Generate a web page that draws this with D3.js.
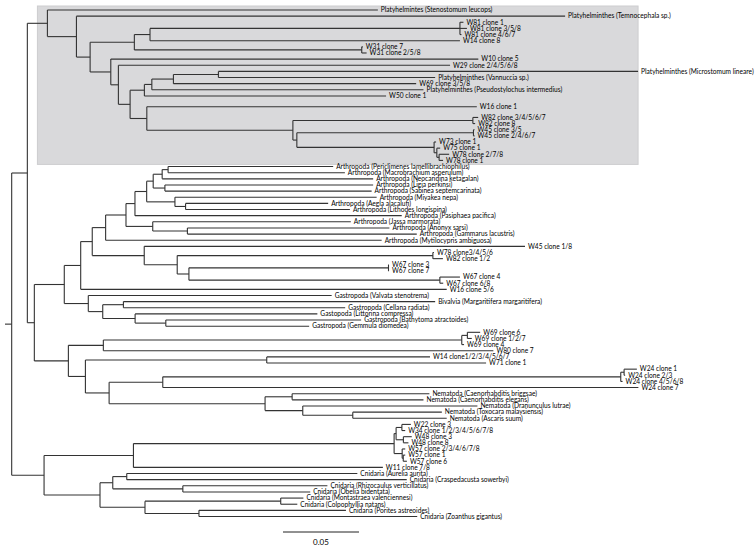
<!DOCTYPE html>
<html><head><meta charset="utf-8">
<script src="https://cdn.jsdelivr.net/npm/d3@7"></script>
<style>body{margin:0;background:#fff}svg{display:block}</style>
</head><body>
<svg id="chart" width="756" height="546"></svg>
<script>
// ---- Data: tree clades as Newick strings (branch lengths in substitutions/site) ----
const platyhelminthClade = "('Platyhelmintes (Stenostomum leucops)':0.2174,('Platyhelminthes (Temnocephala sp.)':0.3215,(((('W81 clone 1':0.0023,'W81 clone 3/5/8':0.0046,'W81 clone 4/6/7':0.0010):0.2039,'W14 clone 8':0.2039):0.0103,('W31 clone 7':0.0007,'W31 clone 2/5/8':0.0032):0.1496):0.0291,('W10 clone 5':0.2418,('W29 clone 2/4/5/6/8':0.2182,((((('Platyhelminthes (Microstomum lineare)':0.2761,'Platyhelminthes (Vannuccia sp.)':0.1426):0.0296,'W69 clone 3/5/8':0.1597):0.0142,'Platyhelminthes (Pseudostylochus intermedius)':0.1787):0.0049,'W50 clone 1':0.1590):0.0094,('W16 clone 1':0.2171,(('W82 clone 3/4/5/6/7':0.0035,'W82 clone 8':0.0015):0.1184,(('W45 clone 3/5':0.0007,'W45 clone 2/4/6/7':0.0007):0.1162,('W73 clone 1':0.0013,('W75 clone 1':0.0022,('W78 clone 2/7/8':0.0066,'W78 clone 1':0.0026):0.0015):0.0018):0.0903):0.0026):0.0961):0.0110):0.0077):0.0050):0.0136):0.0090):0.0191):0.0132";
const arthropodClade = "((((((('Arthropoda (Periclimenes lamellibrachiophilus)':0.1086,'Arthropoda (Macrobrachium asperulum)':0.1163):0.0039,'Arthropoda (Neocaridina ketagalan)':0.1388):0.0059,('Arthropoda (Ligia perkinsi)':0.1370,'Arthropoda (Sabinea septemcarinata)':0.1360):0.0077):0.0043,('Arthropoda (Miyakea nepa)':0.1327,('Arthropoda (Aegla alacalufi)':0.0938,'Arthropoda (Lithodes longispina)':0.1081):0.0070):0.0186):0.0077,'Arthropoda (Pasiphaea pacifica)':0.1755):0.0059,('Arthropoda (Jassa marmorata)':0.1303,('Arthropoda (Anonyx sarsi)':0.1329,'Arthropoda (Gammarus lacustris)':0.1509):0.0228):0.0176):0.0134,'Arthropoda (Mytilocypris ambiguosa)':0.1816):0.0088";
const cloneCladeW45W67 = "('W45 clone 1/8':0.2505,(('W78 clone3/4/5/6':0.0007,'W82 clone 1/2':0.0066):0.1682,(('W67 clone 3':0.0003,'W67 clone 7':0.0003):0.1313,('W67 clone 4':0.0132,'W67 clone 6/8':0.0022):0.1651):0.0077):0.0217):0.0342";
const molluscClade = "('Gastropoda (Valvata stenotrema)':0.1601,(('Bivalvia (Margaritifera margaritifera)':0.2051,'Gastropoda (Cellana radiata)':0.1459):0.0136,('Gastopoda (Littorina compressa)':0.1199,('Gastropoda (Bathytoma atractoides)':0.1285,'Gastropoda (Gemmula diomedea)':0.0943):0.0202):0.0213):0.0095):0.0158";
const cloneCladeW69W80 = "((('W69 clone 6':0.0084,'W69 clone 1/2/7':0.0029):0.0037,'W69 clone 4':0.0015):0.2358,'W80 clone 7':0.2566):0.0230";
const cloneCladeW14W71 = "('W14 clone1/2/3/4/5/6/7':0.1074,'W71 clone 1':0.1443):0.1193";
const cloneCladeW24 = "((('W24 clone 1':0.0084,'W24 clone 2/3':0.0007):0.0022,'W24 clone 4/5/6/8':0.0012):0.3013,'W24 clone 7':0.3129):0.0353";
const nematodeClade = "(('Nematoda (Caenorhabditis briggsae)':0.0903,'Nematoda (Caenorhabditis elegans)':0.0864):0.0178,('Nematoda (Dranunculus lutrae)':0.1149,('Nematoda (Toxocara malaysiensis)':0.0586,'Nematoda (Ascaris suum)':0.0618):0.0329):0.0248):0.1026";
const cnidarianClade = "((((('W22 clone 3':0.0059,'W34 clone 1/2/3/4/5/6/7/8':0.0022):0.0038,('W48 clone 3':0.0055,'W48 clone 8':0.0033):0.0048):0.0013,('W57 clone 2/3/4/6/7/8':0.0020,('W57 clone 1':0.0013,'W57 clone 6':0.0024):0.0007):0.0053):0.1715,'W11 clone 7/8':0.1641):0.0588,((('Cnidaria (Aurelia aurita)':0.1517,'Cnidaria (Craspedacusta sowerbyi)':0.1842):0.0092,('Cnidaria (Rhizocaulus verticillatus)':0.0951,'Cnidaria (Obelia bidentata)':0.0838):0.0461):0.0084,(('Cnidaria (Montastraea valenciennesi)':0.0149,'Cnidaria (Colpophyllia natans)':0.0109):0.0893,('Cnidaria (Porites astreoides)':0.0967,'Cnidaria (Zoanthus gigantus)':0.1436):0.0355):0.0296):0.0368):0.0213";
const scaleBarValue = 0.05;
const scaleBarLabel = "0.05";
// leaves preceded by a slightly wider gap in the original figure
const widerGapBefore = ["W16 clone 1", "W82 clone 3/4/5/6/7"];

// assemble the full tree
const ecdysoMollusc = `((${arthropodClade},${cloneCladeW45W67}):0.0076,'W16 clone 5/6':0.2408):0.0108`;
const groupY1 = `(${ecdysoMollusc},${molluscClade}):0.0197`;
const groupY2 = `(${cloneCladeW69W80},(${cloneCladeW14W71},(${cloneCladeW24},${nematodeClade}):0.0156):0.0112):0.0224`;
const groupZ1 = `(${platyhelminthClade},(${groupY1},${groupY2}):0.0046):0.0103`;
const newick = `(${groupZ1},${cnidarianClade}):0.0044;`;

function parseNewick(s) {
  let i = 0;
  function node() {
    const n = {children: [], name: "", length: 0};
    if (s[i] === "(") {
      i++;
      n.children.push(node());
      while (s[i] === ",") { i++; n.children.push(node()); }
      i++; // ')'
    }
    if (s[i] === "'") {
      const j = s.indexOf("'", i + 1);
      n.name = s.slice(i + 1, j); i = j + 1;
    } else {
      let j = i; while (j < s.length && !":,);".includes(s[j])) j++;
      n.name = s.slice(i, j); i = j;
    }
    if (s[i] === ":") {
      i++; let j = i; while (j < s.length && !",);".includes(s[j])) j++;
      n.length = +s.slice(i, j); i = j;
    }
    return n;
  }
  return node();
}

const root = d3.hierarchy(parseNewick(newick), d => d.children.length ? d.children : null);
root.eachBefore(d => { d.dist = (d.parent ? d.parent.dist : 0) + d.data.length; });
const leaves = root.leaves();

// leaf slots (index plus extra gaps)
let slot = 0;
leaves.forEach((d, i) => {
  if (i > 0) slot += widerGapBefore.includes(d.data.name) ? 1.75 : 1;
  d.slot = slot;
});

const svg = d3.select("#chart");
const x = d3.scaleLinear().domain([0, scaleBarValue]).range([5, 81]);
const y = d3.scaleLinear().domain([0, slot]).range([10, 516.5]);
leaves.forEach(d => d.yy = y(d.slot));
root.eachAfter(d => {
  if (d.children) d.yy = (d.children[0].yy + d.children[d.children.length - 1].yy) / 2;
  d.xx = x(d.dist);
});

// shaded platyhelminth clade box
const platyNode = root.children[0].children[0];
const pl = platyNode.leaves();
svg.append("rect")
  .attr("x", platyNode.xx - 10).attr("y", pl[0].yy - 4)
  .attr("width", d3.max(pl, d => d.xx) - platyNode.xx + 10)
  .attr("height", pl[pl.length - 1].yy - pl[0].yy + 8)
  .attr("fill", "#d9d9db").attr("stroke", "#cdcdcf").attr("stroke-width", 1);

const g = svg.append("g").attr("fill", "none").attr("stroke", "#333").attr("stroke-width", 1.1);
// root stub
g.append("line").attr("x1", x(0)).attr("x2", root.xx).attr("y1", root.yy).attr("y2", root.yy);
root.descendants().forEach(d => {
  if (d.parent) g.append("line").attr("x1", d.parent.xx).attr("x2", d.xx).attr("y1", d.yy).attr("y2", d.yy);
  if (d.children) g.append("line").attr("x1", d.xx).attr("x2", d.xx)
    .attr("y1", d.children[0].yy).attr("y2", d.children[d.children.length - 1].yy);
});

svg.append("g").selectAll("text").data(leaves).join("text")
  .attr("x", d => d.xx + 3).attr("y", d => d.yy).attr("dy", "0.35em")
  .attr("font-family", "Lato, 'Open Sans', sans-serif").attr("font-size", 6.6).attr("fill", "#000")
  .text(d => d.data.name);

// scale bar
const sbX = 283, sbY = 532;
svg.append("line").attr("x1", sbX).attr("x2", sbX + x(scaleBarValue) - x(0))
  .attr("y1", sbY).attr("y2", sbY).attr("stroke", "#222").attr("stroke-width", 1);
svg.append("text").attr("x", sbX + (x(scaleBarValue) - x(0)) / 2).attr("y", sbY + 12.5)
  .attr("text-anchor", "middle").attr("font-family", "Lato, sans-serif").attr("font-size", 8).attr("fill", "#000")
  .text(scaleBarLabel);
</script>
</body></html>
